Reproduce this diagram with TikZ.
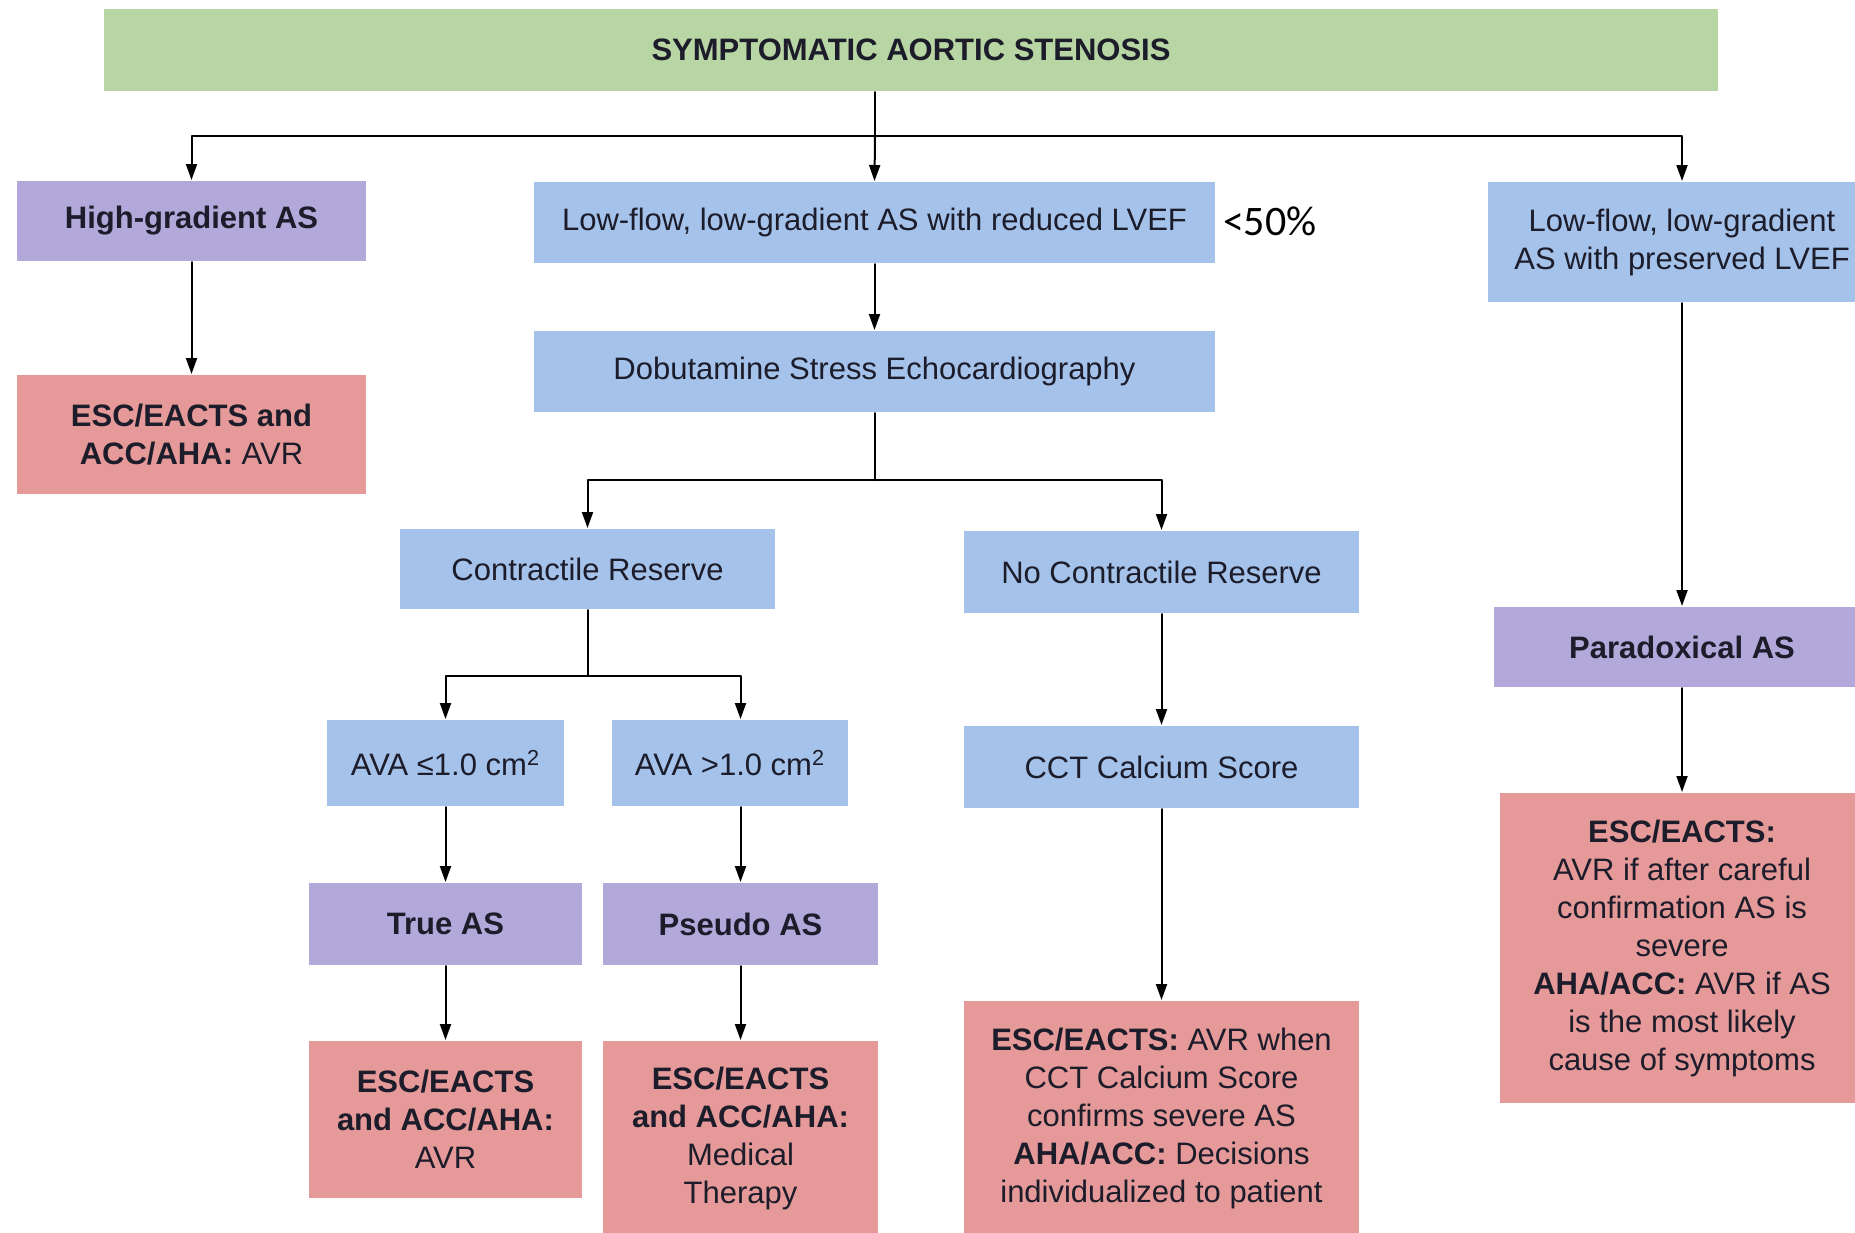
\documentclass[tikz,border=0pt]{standalone}
\usepackage{fontspec}
\setmainfont{Liberation Sans}
\newfontfamily\calibrifont{Carlito}
\usetikzlibrary{arrows.meta}
\definecolor{asgreen}{HTML}{B7D6A3}
\definecolor{asblue}{HTML}{A4C2EA}
\definecolor{aspurple}{HTML}{B3A8DA}
\definecolor{asred}{HTML}{E59A99}
\definecolor{astext}{HTML}{1C1C2A}
\tikzset{
  box/.style={inner sep=0pt,align=center,text=astext,
    font=\fontsize{15.5}{19}\selectfont},
  greenbox/.style={box,fill=asgreen,font=\fontsize{15.5}{19}\selectfont\bfseries},
  bluebox/.style={box,fill=asblue},
  purplebox/.style={box,fill=aspurple,font=\fontsize{15.5}{19}\selectfont\bfseries},
  redbox/.style={box,fill=asred},
  arr/.style={-{Stealth[length=8pt,width=5.5pt,inset=0pt]}},
}
\begin{document}
\begin{tikzpicture}[x=0.5pt,y=-0.5pt,line width=1pt,line cap=round,line join=round]
  \path[use as bounding box,clip] (0,0) rectangle (1855,1232);
  % top row
  \node[greenbox,minimum width=807pt,minimum height=41pt] (top) at (911,50) {SYMPTOMATIC AORTIC STENOSIS};
  \node[purplebox,minimum width=174.5pt,minimum height=40pt] (hg) at (191.5,221) {High-gradient AS};
  \node[bluebox,minimum width=340.5pt,minimum height=40.5pt] (lfr) at (874.5,222.5) {Low-flow, low-gradient AS with reduced LVEF};
  \node[anchor=west,inner sep=0pt,font=\calibrifont\fontsize{21}{24}\selectfont] (ef) at (1222,221) {<50\%};
  \node[bluebox,minimum width=194pt,minimum height=60pt] (lfp) at (1682,242) {Low-flow, low-gradient\\AS with preserved LVEF};
  % left column
  \node[redbox,minimum width=174.5pt,minimum height=59.5pt] (avr1) at (191.5,434.5) {\textbf{ESC/EACTS and}\\\textbf{ACC/AHA:} AVR};
  % middle column
  \node[bluebox,minimum width=340.5pt,minimum height=40.5pt] (dse) at (874.5,371.5) {Dobutamine Stress Echocardiography};
  \node[bluebox,minimum width=187.5pt,minimum height=40pt] (cr) at (587.5,569) {Contractile Reserve};
  \node[bluebox,minimum width=197.5pt,minimum height=41pt] (ncr) at (1161.5,572) {No Contractile Reserve};
  \node[bluebox,minimum width=118.5pt,minimum height=43pt] (ava1) at (445.5,763) {AVA ≤1.0 cm\textsuperscript{2}};
  \node[bluebox,minimum width=118pt,minimum height=43pt] (ava2) at (730,763) {AVA >1.0 cm\textsuperscript{2}};
  \node[bluebox,minimum width=197.5pt,minimum height=41pt] (cct) at (1161.5,767) {CCT Calcium Score};
  \node[purplebox,minimum width=136.5pt,minimum height=41pt] (true) at (445.5,924) {True AS};
  \node[purplebox,minimum width=137.5pt,minimum height=41pt] (pseudo) at (740.5,924) {Pseudo AS};
  \node[redbox,minimum width=136.5pt,minimum height=78.5pt] (avr2) at (445.5,1119.5) {\textbf{ESC/EACTS}\\\textbf{and ACC/AHA:}\\AVR};
  \node[redbox,minimum width=137.5pt,minimum height=97pt] (med) at (740.5,1138) {\textbf{ESC/EACTS}\\\textbf{and ACC/AHA:}\\Medical\\Therapy};
  \node[redbox,minimum width=197.5pt,minimum height=117pt] (cctr) at (1161.5,1118) {\textbf{ESC/EACTS:} AVR when\\CCT Calcium Score\\confirms severe AS\\\textbf{AHA/ACC:} Decisions\\individualized to patient};
  % right column
  \node[purplebox,minimum width=188pt,minimum height=40pt] (para) at (1682,647) {Paradoxical AS};
  \node[redbox,minimum width=182pt,minimum height=155pt] (escr) at (1682,948) {\textbf{ESC/EACTS:}\\AVR if after careful\\confirmation AS is\\severe\\\textbf{AHA/ACC:} AVR if AS\\is the most likely\\cause of symptoms};
  % connectors
  \coordinate (split1) at (875,136);
  \draw (top.south -| split1) -- (split1);
  \draw[arr] (split1) -- (lfr.north);
  \draw[arr] (split1) -| (hg.north);
  \draw[arr] (split1) -| (lfp.north);
  \draw[arr] (hg) -- (avr1);
  \draw[arr] (lfr) -- (dse);
  \draw (dse.south) -- ++(0,67) coordinate (split2);
  \draw[arr] (split2) -| (cr.north);
  \draw[arr] (split2) -| (ncr.north);
  \draw (cr.south) -- ++(0,66) coordinate (split3);
  \draw[arr] (split3) -| (ava1.north);
  \draw[arr] (split3) -| (ava2.north -| pseudo.north);
  \draw[arr] (ava1) -- (true);
  \draw[arr] (ava2.south -| pseudo.north) -- (pseudo.north);
  \draw[arr] (true) -- (avr2);
  \draw[arr] (pseudo) -- (med);
  \draw[arr] (ncr) -- (cct);
  \draw[arr] (cct) -- (cctr);
  \draw[arr] (lfp) -- (para);
  \draw[arr] (para) -- (escr);
\end{tikzpicture}
\end{document}
